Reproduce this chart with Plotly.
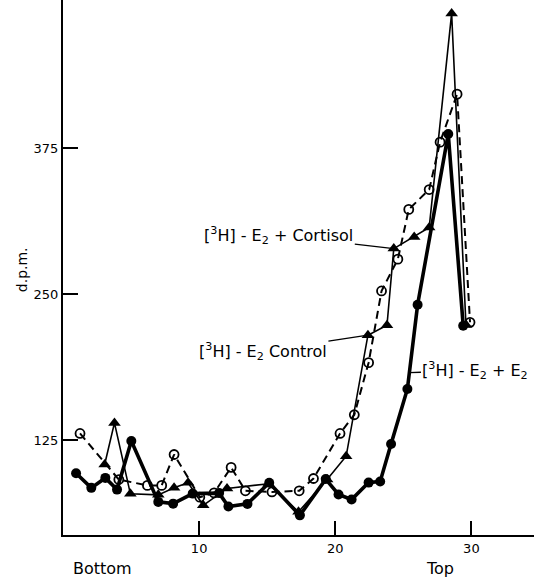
import plotly.graph_objects as go

# Fraction number (Bottom -> Top) and d.p.m. values
e2_x = [0.96, 2.08, 3.11, 3.97, 5.02, 7.0, 8.09, 9.53, 11.47, 12.15, 13.55, 15.15,
        17.4, 19.3, 20.24, 21.2, 22.45, 23.3, 24.1, 25.3, 26.05, 28.3, 29.4]
e2_y = [97, 84.5, 93, 83, 124.5, 72.5, 71, 79.6, 80, 68.5, 70.8, 88.8,
        61, 92, 78.8, 74.5, 89, 90, 122, 169, 241, 387, 223]

tri_x = [3.06, 3.78, 4.95, 7.0, 8.16, 9.19, 10.3, 12.05, 15.1, 17.3, 19.4, 20.8,
         22.4, 23.8, 24.3, 25.8, 26.9, 28.55, 29.6]
tri_y = [104.5, 140, 79.4, 78.5, 84.5, 88.8, 69.6, 84, 88, 64, 91.6, 111.5,
         215, 223.5, 289, 299, 307, 490, 224]

open_x = [1.25, 4.1, 6.2, 7.25, 8.16, 10.05, 11.1, 12.35, 13.4, 15.35, 17.35, 18.4,
          20.35, 21.4, 22.45, 23.4, 24.6, 25.4, 26.9, 27.7, 28.95, 29.9]
open_y = [131, 91.6, 86.6, 86.6, 113, 76.5, 80.2, 102, 82, 81, 82, 92.5,
          131, 147, 191.5, 252.8, 280, 322.5, 339.5, 380, 421, 226]

x_ticks = [10, 20, 30]
y_ticks = [125, 250, 375]

FONT = "DejaVu Sans"

fig = go.Figure()

fig.add_trace(go.Scatter(
    x=open_x, y=open_y, mode="lines+markers",
    line=dict(color="black", width=2, dash="8px,5px"),
    marker=dict(symbol="circle-open", size=9, color="black", line=dict(width=1.8)),
    showlegend=False))

fig.add_trace(go.Scatter(
    x=tri_x, y=tri_y, mode="lines+markers",
    line=dict(color="black", width=1.6),
    marker=dict(symbol="triangle-up", size=11, color="black"),
    showlegend=False))

fig.add_trace(go.Scatter(
    x=e2_x, y=e2_y, mode="lines+markers",
    line=dict(color="black", width=3.6),
    marker=dict(symbol="circle", size=10, color="black"),
    showlegend=False))

label_font = dict(family=FONT, size=16, color="black")
fig.add_annotation(x=24.3, y=289, text="[<sup>3</sup>H] - E<sub>2</sub> + Cortisol",
                   showarrow=True, arrowhead=0, arrowwidth=1.3, arrowcolor="black",
                   ax=-115, ay=-13, font=label_font)
fig.add_annotation(x=22.4, y=215, text="[<sup>3</sup>H] - E<sub>2</sub> Control",
                   showarrow=True, arrowhead=0, arrowwidth=1.3, arrowcolor="black",
                   ax=-105, ay=16, font=label_font)
fig.add_annotation(x=25.45, y=183, text="[<sup>3</sup>H] - E<sub>2</sub> + E<sub>2</sub>",
                   showarrow=True, arrowhead=0, arrowwidth=1.3, arrowcolor="black",
                   ax=66, ay=-2, font=label_font)

fig.add_annotation(x=0.083, y=-0.0617, xref="paper", yref="paper", text="Bottom",
                   xanchor="center", yanchor="middle",
                   showarrow=False, font=dict(family=FONT, size=16, color="black"))
fig.add_annotation(x=0.80, y=-0.0617, xref="paper", yref="paper", text="Top",
                   xanchor="center", yanchor="middle",
                   showarrow=False, font=dict(family=FONT, size=16, color="black"))
fig.add_annotation(x=-0.087, y=0.495, xref="paper", yref="paper", text="d.p.m.",
                   xanchor="center", yanchor="middle",
                   textangle=-90, showarrow=False,
                   font=dict(family=FONT, size=14, color="black"))

fig.update_xaxes(range=[0, 34.6], tickvals=x_ticks, ticktext=[str(v) for v in x_ticks],
                 ticks="inside", ticklen=14, tickwidth=1.5, tickcolor="black",
                 showline=True, linecolor="black", linewidth=2, showgrid=False,
                 zeroline=False, tickfont=dict(family=FONT, size=13, color="black"))
fig.update_yaxes(range=[44.2, 501.5], tickvals=y_ticks, ticktext=[str(v) for v in y_ticks],
                 ticks="inside", ticklen=15, tickwidth=1.5, tickcolor="black",
                 showline=True, linecolor="black", linewidth=2, showgrid=False,
                 zeroline=False, tickfont=dict(family=FONT, size=13, color="black"))

fig.update_layout(width=534, height=579, margin=dict(l=63, r=0, t=0, b=44),
                  plot_bgcolor="white", paper_bgcolor="white")

fig.write_html("out.html")
